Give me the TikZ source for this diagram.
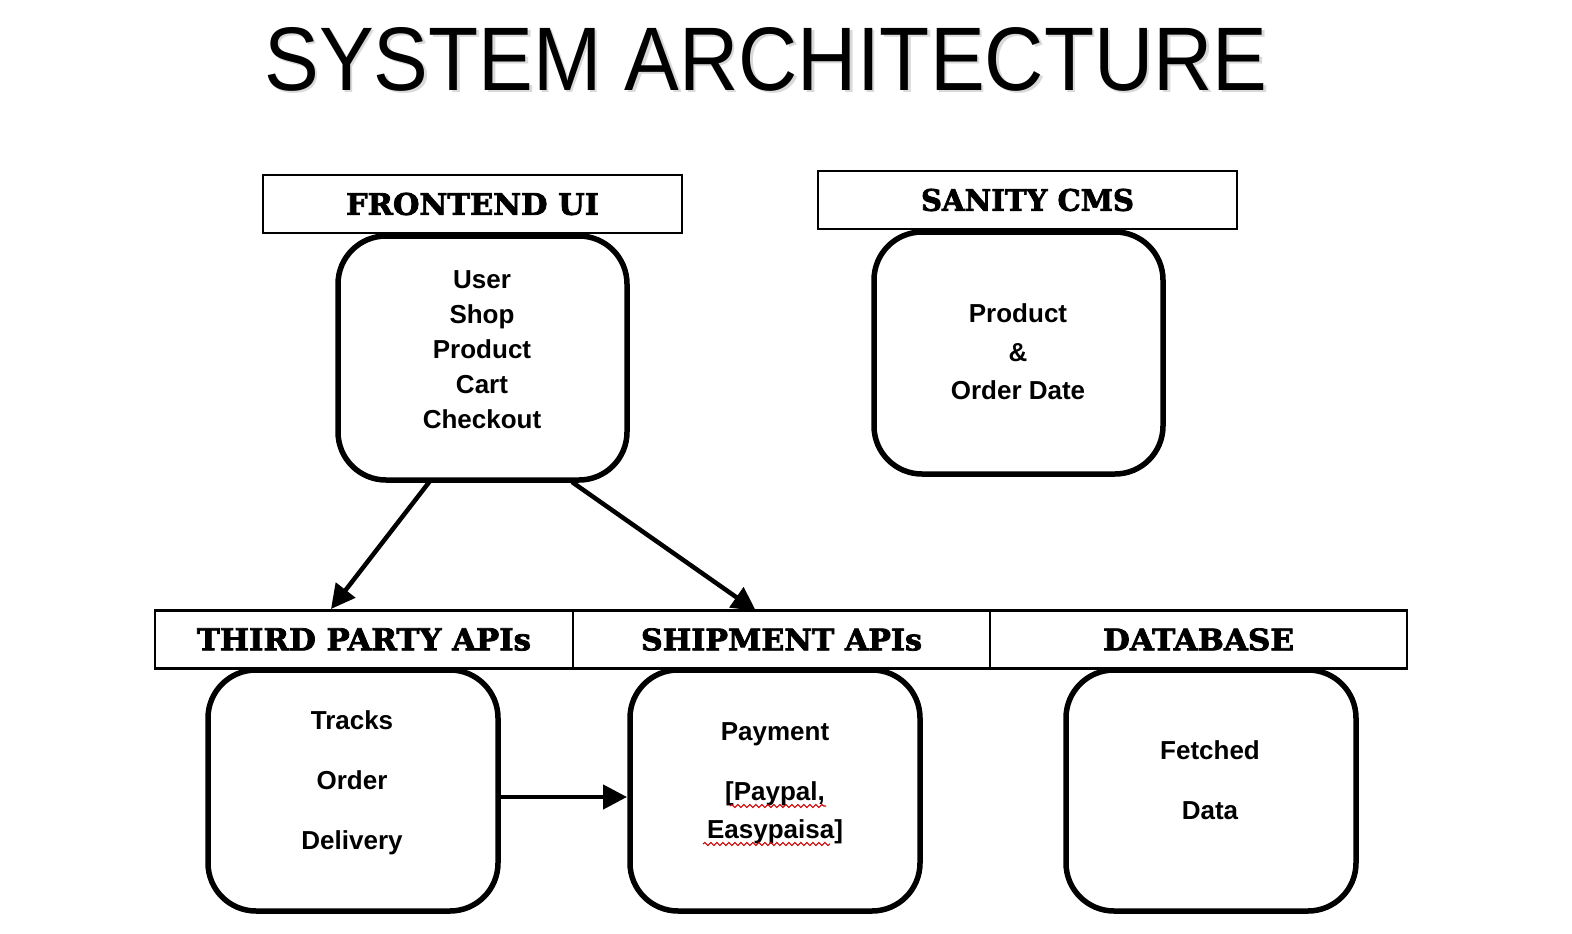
\documentclass[tikz,border=0pt]{standalone}
\usepackage{fontspec}
\setmainfont{Liberation Sans}
\newfontfamily\hdrfont{DejaVu Serif}[BoldFeatures={FakeBold=2.5}]
\usetikzlibrary{arrows.meta,decorations.pathmorphing}
\newcommand{\hdrtext}[3]{\resizebox{#1pt}{#2pt}{\hdrfont\bfseries #3}}
\tikzset{
  hdrbox/.style={draw, line width=2.6pt, minimum height=58pt, inner sep=0pt},
  rbox/.style={draw, line width=5.5pt, rounded corners=48pt, inner sep=0pt},
  body/.style={font=\fontsize{26}{#1}\selectfont\bfseries, align=center, inner sep=0pt},
  conn/.style={line width=4.5pt, -{Triangle[length=24pt,width=24pt]}},
  squig/.style={draw=red!80!black, line width=1.1pt, decorate,
    decoration={snake, amplitude=1.5pt, segment length=6pt}}
}
\begin{document}
\begin{tikzpicture}[x=1pt,y=-1pt]
\useasboundingbox (0,0) rectangle (1572,934);
\fill[white] (0,0) rectangle (1572,934);
% title
\node[text=black!15, inner sep=0pt] at (768.5,61.5) {\resizebox{1003pt}{63pt}{SYSTEM ARCHITECTURE}};
\node (title) [inner sep=0pt] at (766,59) {\resizebox{1003pt}{63pt}{SYSTEM ARCHITECTURE}};
% top headers
\node (fh) [hdrbox, minimum width=419pt] at (472.5,204) {\hdrtext{253}{22}{FRONTEND UI}};
\node (sh) [hdrbox, minimum width=419pt] at (1027.5,200) {\hdrtext{213}{22}{SANITY CMS}};
% bottom headers
\node (th) [hdrbox, minimum width=418pt] at (364,639.5) {\hdrtext{334}{22}{THIRD PARTY APIs}};
\node (shh) [hdrbox, minimum width=417pt] at (781.5,639.5) {\hdrtext{281}{22}{SHIPMENT APIs}};
\node (dh) [hdrbox, minimum width=417pt] at (1198.5,639.5) {\hdrtext{191}{22}{DATABASE}};
% rounded boxes
\node (fe) [rbox, minimum width=289pt, minimum height=244pt] at (482.5,358) {};
\node (fet) [body=35] at (482,350) {User\\Shop\\Product\\Cart\\Checkout};
\node (cms) [rbox, minimum width=289pt, minimum height=242pt] at (1018.5,353) {};
\node (cmst) [body=38.5] at (1018,352) {Product\\\&\\Order Date};
\node (tp) [rbox, minimum width=290pt, minimum height=241pt] at (353,790.5) {};
\node (tpt) [body=60] at (352,783) {Tracks\\Order\\Delivery};
\node (sp) [rbox, minimum width=290pt, minimum height=241pt] at (775,790.5) {};
\node (spt) [body=60] at (775,734) {Payment};
\node (pp) [body=38] at (775,813) {[Paypal,\\Easypaisa]};
\node (db) [rbox, minimum width=290pt, minimum height=241pt] at (1211,790.5) {};
\node (dbt) [body=60] at (1210,780) {Fetched\\Data};
% squiggles
\coordinate (s1a) at (730,806); \coordinate (s1b) at (826,806);
\coordinate (s2a) at (703,844); \coordinate (s2b) at (830,844);
\draw[squig] (s1a) -- (s1b);
\draw[squig] (s2a) -- (s2b);
% connectors
\coordinate (a1s) at (430,481); \coordinate (a1e) at (331,609);
\coordinate (a2s) at (572,482); \coordinate (a2e) at (756,611);
\coordinate (a3s) at (498,797); \coordinate (a3e) at (627,797);
\draw[conn] (a1s) -- (a1e);
\draw[conn] (a2s) -- (a2e);
\draw[conn] (a3s) -- (a3e);
\end{tikzpicture}
\end{document}
